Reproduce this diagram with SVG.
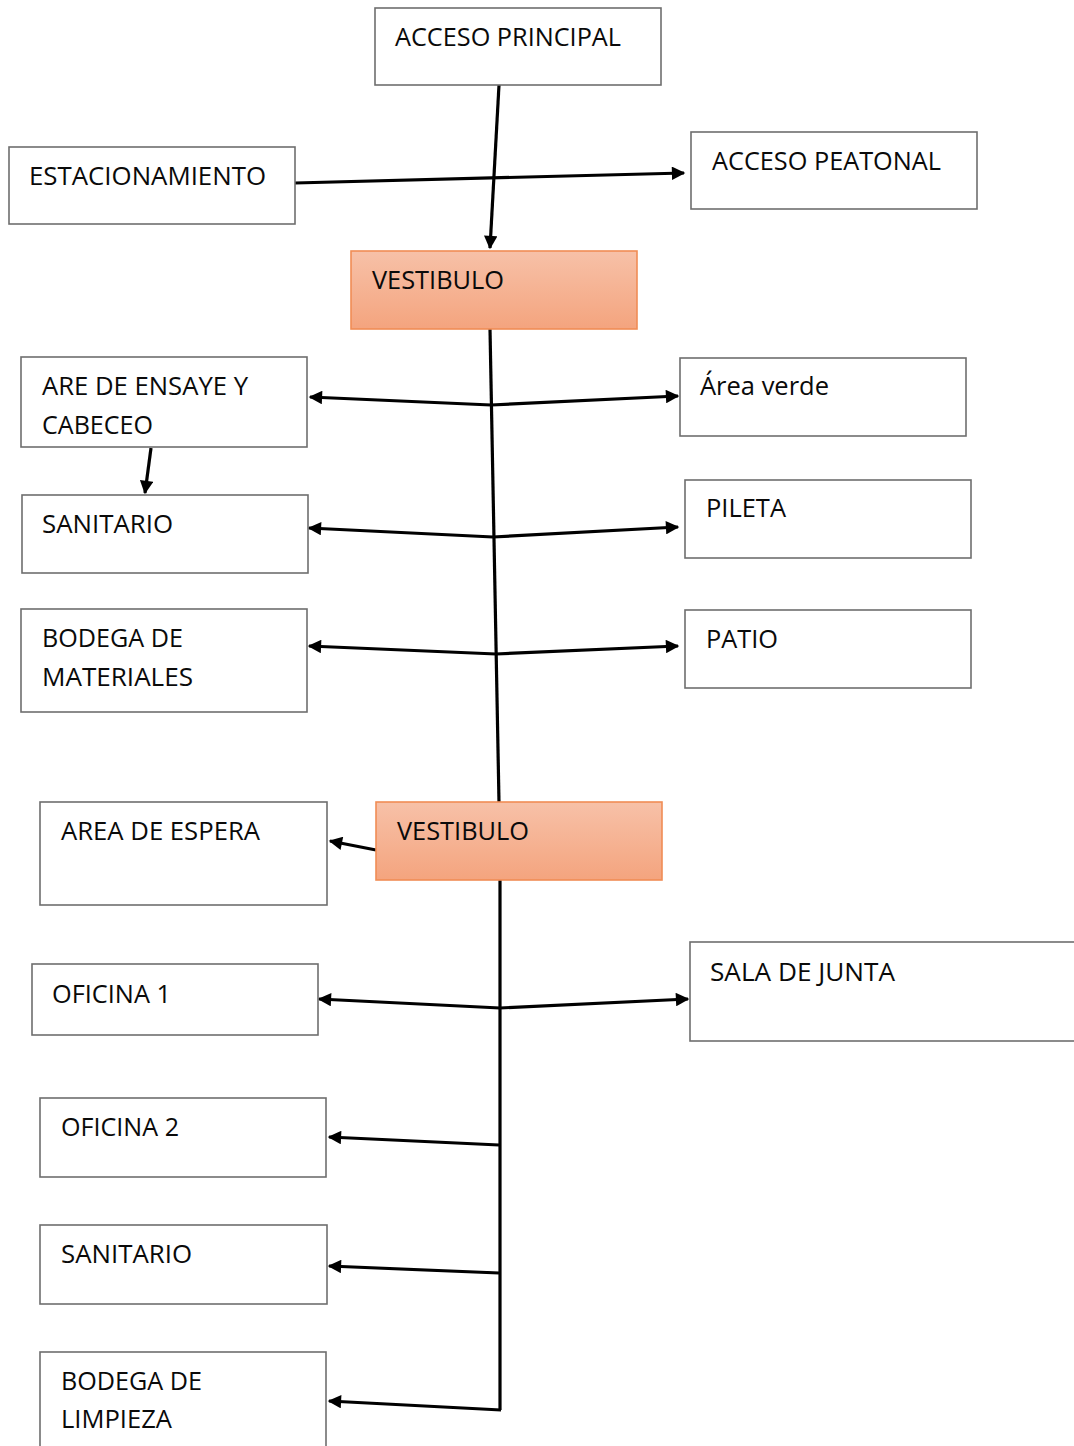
<svg xmlns="http://www.w3.org/2000/svg" width="1074" height="1446" viewBox="0 0 1074 1446">
<style>
.box{fill:#fff;stroke:#6e6e6e;stroke-width:1.6}
.ves{fill:url(#g);stroke:#f08d55;stroke-width:1.6}
text{font-family:"Open Sans","Noto Sans","DejaVu Sans",sans-serif;font-size:25px;fill:#0a0a0a}
.c{fill:none;stroke:#000;stroke-width:3.2;stroke-linejoin:miter}
.a{fill:none;stroke:#000;stroke-width:3.2;marker-end:url(#ah)}
</style>
<defs>
<linearGradient id="g" x1="0" y1="0" x2="0" y2="1"><stop offset="0" stop-color="#f7c1a8"/><stop offset="1" stop-color="#f4a47e"/></linearGradient>
<marker id="ah" viewBox="0 0 10 10" refX="9" refY="5" markerWidth="4.6" markerHeight="4.2" orient="auto" markerUnits="strokeWidth"><path d="M0,0 L10,5 L0,10 z" fill="#000"/></marker>
</defs>
<g id="connectors">
<path class="a" d="M499,85 L490,248"/>
<path class="a" d="M295,183 L684,173"/>
<path class="c" d="M490,329 L499,802"/>
<path class="a" d="M491,405 L310,397"/>
<path class="a" d="M491,405 L678,396"/>
<path class="a" d="M151,448 L145,493"/>
<path class="a" d="M493,537 L309,528"/>
<path class="a" d="M493,537 L678,527"/>
<path class="a" d="M496,654 L309,646"/>
<path class="a" d="M496,654 L678,646"/>
<path class="a" d="M376,850 L330,841"/>
<path class="c" d="M500,880 L500,1410"/>
<path class="a" d="M500,1008 L319,999"/>
<path class="a" d="M500,1008 L688,999"/>
<path class="a" d="M499,1145 L329,1137"/>
<path class="a" d="M499,1273 L329,1266"/>
<path class="a" d="M501,1410 L329,1401"/>
</g>
<g id="acceso-principal"><rect class="box" x="375" y="8" width="286" height="77"/><text x="395" y="46" textLength="226" lengthAdjust="spacingAndGlyphs">ACCESO PRINCIPAL</text></g>
<g id="estacionamiento"><rect class="box" x="9" y="147" width="286" height="77"/><text x="29" y="185" textLength="237" lengthAdjust="spacingAndGlyphs">ESTACIONAMIENTO</text></g>
<g id="acceso-peatonal"><rect class="box" x="691" y="132" width="286" height="77"/><text x="712" y="170" textLength="229" lengthAdjust="spacingAndGlyphs">ACCESO PEATONAL</text></g>
<g id="vestibulo-1"><rect class="ves" x="351" y="251" width="286" height="78"/><text x="372" y="289" textLength="132" lengthAdjust="spacingAndGlyphs">VESTIBULO</text></g>
<g id="area-ensaye"><rect class="box" x="21" y="357" width="286" height="90"/><text x="42" y="395" textLength="206" lengthAdjust="spacingAndGlyphs">ARE DE ENSAYE Y</text><text x="42" y="434" textLength="111" lengthAdjust="spacingAndGlyphs">CABECEO</text></g>
<g id="area-verde"><rect class="box" x="680" y="358" width="286" height="78"/><text x="700" y="395" textLength="129" lengthAdjust="spacingAndGlyphs">Área verde</text></g>
<g id="sanitario-1"><rect class="box" x="22" y="495" width="286" height="78"/><text x="42" y="533" textLength="131" lengthAdjust="spacingAndGlyphs">SANITARIO</text></g>
<g id="pileta"><rect class="box" x="685" y="480" width="286" height="78"/><text x="706" y="517" textLength="80" lengthAdjust="spacingAndGlyphs">PILETA</text></g>
<g id="bodega-materiales"><rect class="box" x="21" y="609" width="286" height="103"/><text x="42" y="647" textLength="141" lengthAdjust="spacingAndGlyphs">BODEGA DE</text><text x="42" y="686" textLength="151" lengthAdjust="spacingAndGlyphs">MATERIALES</text></g>
<g id="patio"><rect class="box" x="685" y="610" width="286" height="78"/><text x="706" y="648" textLength="72" lengthAdjust="spacingAndGlyphs">PATIO</text></g>
<g id="area-espera"><rect class="box" x="40" y="802" width="287" height="103"/><text x="61" y="840" textLength="199" lengthAdjust="spacingAndGlyphs">AREA DE ESPERA</text></g>
<g id="vestibulo-2"><rect class="ves" x="376" y="802" width="286" height="78"/><text x="397" y="840" textLength="132" lengthAdjust="spacingAndGlyphs">VESTIBULO</text></g>
<g id="oficina-1"><rect class="box" x="32" y="964" width="286" height="71"/><text x="52" y="1003" textLength="119" lengthAdjust="spacingAndGlyphs">OFICINA 1</text></g>
<g id="sala-junta"><rect class="box" x="690" y="942" width="400" height="99"/><text x="710" y="981" textLength="185" lengthAdjust="spacingAndGlyphs">SALA DE JUNTA</text></g>
<g id="oficina-2"><rect class="box" x="40" y="1098" width="286" height="79"/><text x="61" y="1136" textLength="118" lengthAdjust="spacingAndGlyphs">OFICINA 2</text></g>
<g id="sanitario-2"><rect class="box" x="40" y="1225" width="287" height="79"/><text x="61" y="1263" textLength="131" lengthAdjust="spacingAndGlyphs">SANITARIO</text></g>
<g id="bodega-limpieza"><rect class="box" x="40" y="1352" width="286" height="110"/><text x="61" y="1390" textLength="141" lengthAdjust="spacingAndGlyphs">BODEGA DE</text><text x="61" y="1428" textLength="111" lengthAdjust="spacingAndGlyphs">LIMPIEZA</text></g>
</svg>
